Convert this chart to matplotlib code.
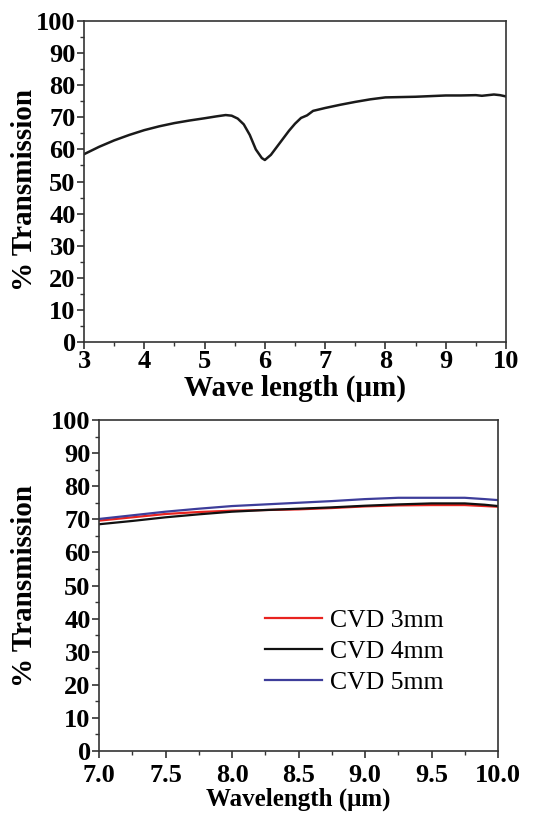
import matplotlib
matplotlib.use('Agg')
import matplotlib.pyplot as plt
from matplotlib.ticker import MultipleLocator, FormatStrFormatter

# top panel: single transmission spectrum
wl_top = [3.0, 3.25, 3.5, 3.75, 4.0, 4.25, 4.5, 4.75, 5.0, 5.2, 5.35, 5.45, 5.55, 5.65,
          5.75, 5.85, 5.95, 6.0, 6.1, 6.2, 6.3, 6.4, 6.5, 6.6, 6.7, 6.8, 7.0, 7.25,
          7.5, 7.75, 8.0, 8.25, 8.5, 8.75, 9.0, 9.25, 9.5, 9.6, 9.8, 9.9, 10.0]
trans_top = [58.5, 60.8, 62.8, 64.5, 66.0, 67.2, 68.2, 69.0, 69.7, 70.3, 70.7, 70.5, 69.6, 67.8,
             64.5, 60.0, 57.3, 56.7, 58.3, 60.8, 63.3, 65.8, 68.0, 69.8, 70.6, 72.0, 72.9, 73.9,
             74.8, 75.6, 76.2, 76.3, 76.4, 76.6, 76.8, 76.8, 76.9, 76.7, 77.1, 76.9, 76.5]

# bottom panel: CVD samples
wl_bot = [7.0, 7.25, 7.5, 7.75, 8.0, 8.25, 8.5, 8.75, 9.0, 9.25, 9.5, 9.75, 9.9, 10.0]
cvd_3mm = [69.6, 70.6, 71.6, 72.2, 72.6, 72.8, 73.0, 73.4, 73.9, 74.2, 74.3, 74.3, 74.0, 73.8]
cvd_4mm = [68.5, 69.5, 70.6, 71.5, 72.3, 72.8, 73.2, 73.6, 74.1, 74.5, 74.8, 74.8, 74.4, 74.0]
cvd_5mm = [70.1, 71.2, 72.3, 73.2, 74.0, 74.5, 75.0, 75.5, 76.1, 76.5, 76.5, 76.5, 76.1, 75.8]
series_labels = ['CVD 3mm', 'CVD 4mm', 'CVD 5mm']
series_colors = ['#e8231f', '#111111', '#3d3d9a']

plt.rcParams['font.family'] = ['Liberation Serif', 'DejaVu Serif']

fig = plt.figure(figsize=(5.38, 8.13), dpi=100)
W, H = 538, 813


def style_axes(ax, xpad=1):
    for s in ax.spines.values():
        s.set_color('#333333')
        s.set_linewidth(1.2)
    ax.tick_params(which='major', direction='out', length=5, width=1.2, color='#333333',
                   labelsize=19, pad=1)
    ax.tick_params(axis='x', which='major', pad=xpad)
    ax.tick_params(which='minor', direction='out', length=3, width=1.0, color='#333333')
    for lab in ax.get_xticklabels() + ax.get_yticklabels():
        lab.set_fontweight('bold')


# top panel
ax1 = fig.add_axes([84 / W, 1 - 342 / H, (506 - 84) / W, (342 - 21) / H])
ax1.plot(wl_top, trans_top, color='#1a1a1a', lw=1.8)
ax1.set_xlim(3, 10)
ax1.set_ylim(0, 100)
ax1.xaxis.set_major_locator(MultipleLocator(1))
ax1.xaxis.set_minor_locator(MultipleLocator(0.5))
ax1.yaxis.set_major_locator(MultipleLocator(10))
ax1.yaxis.set_minor_locator(MultipleLocator(5))
style_axes(ax1)
ax1.set_xlabel('Wave length (μm)', fontsize=21, fontweight='bold', labelpad=1)
ax1.set_ylabel('% Transmission', fontsize=21, fontweight='bold', labelpad=-1.5, y=0.475)

# bottom panel
ax2 = fig.add_axes([99 / W, 1 - 751 / H, (498 - 99) / W, (751 - 420) / H])
for ys, lab, c in zip([cvd_3mm, cvd_4mm, cvd_5mm], series_labels, series_colors):
    ax2.plot(wl_bot, ys, color=c, lw=1.6, label=lab)
ax2.set_xlim(7, 10)
ax2.set_ylim(0, 100)
ax2.xaxis.set_major_locator(MultipleLocator(0.5))
ax2.xaxis.set_minor_locator(MultipleLocator(0.25))
ax2.yaxis.set_major_locator(MultipleLocator(10))
ax2.yaxis.set_minor_locator(MultipleLocator(5))
ax2.xaxis.set_major_formatter(FormatStrFormatter('%.1f'))
style_axes(ax2, xpad=4)
ax2.set_xlabel('Wavelength (μm)', fontsize=18, fontweight='bold', labelpad=1)
ax2.set_ylabel('% Transmission', fontsize=21, fontweight='bold', labelpad=9.5)
ax2.legend(loc='lower left', bbox_to_anchor=(0.385, 0.134), frameon=False, fontsize=18.5,
           handlelength=2.2, handletextpad=0.3, labelspacing=0.3, borderpad=0)

fig.savefig('out.png', dpi=100)
